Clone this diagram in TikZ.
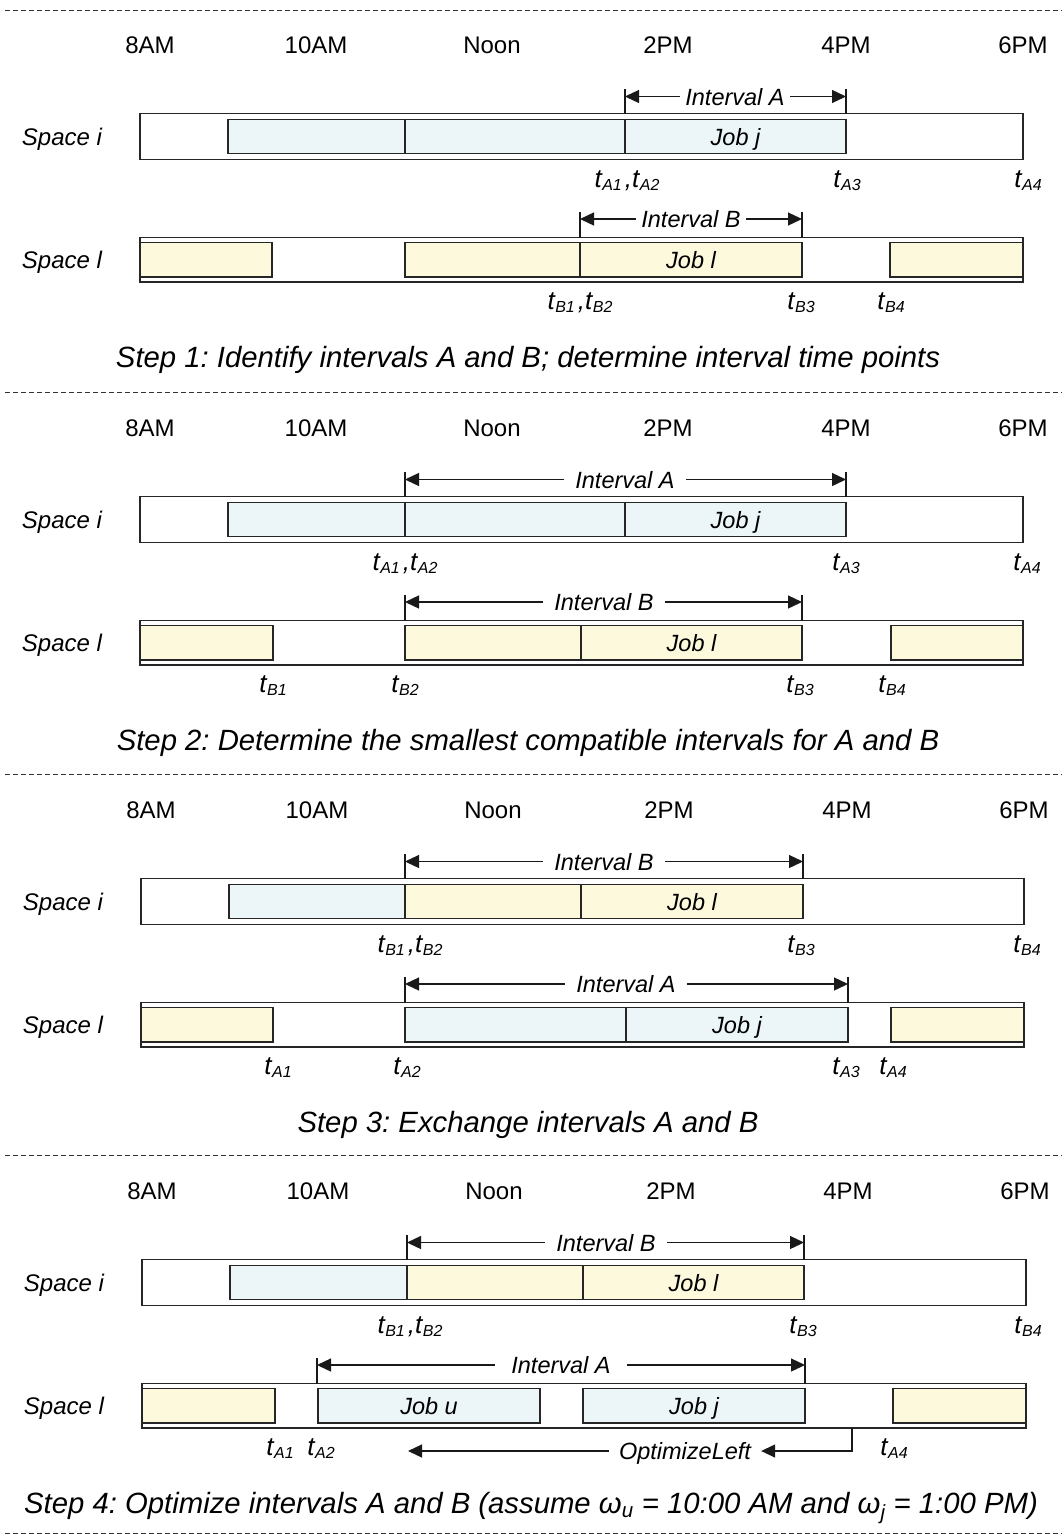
\documentclass[tikz,border=0pt]{standalone}
\usepackage{fontspec}
\setmainfont{Liberation Sans}
\usetikzlibrary{arrows.meta}
\definecolor{jobblue}{HTML}{ECF6F9}
\definecolor{jobyel}{HTML}{FCF9DC}
\newcommand\fs[1]{\fontsize{#1}{#1}\selectfont}
\newcommand\tl[1]{t\kern0.5pt\raisebox{-3.5pt}{\fs{16}#1}}
\newcommand\bx[7]{\node[#6, anchor=north west, minimum width={(#4-#2)*1pt}, minimum height={(#5-#3)*1pt}] (#1) at (#2,#3) {#7};}
\frenchspacing
\begin{document}
\begin{tikzpicture}[x=1pt,y=-1pt,
  bar/.style={draw=black!85, line width=1.3pt, fill=white, inner sep=0pt, outer sep=0pt},
  jb/.style={bar, fill=jobblue, font=\fs{23.5}\itshape, text depth=0pt},
  jy/.style={bar, fill=jobyel, font=\fs{23.5}\itshape, text depth=0pt},
  tm/.style={font=\fs{24}, anchor=base, inner sep=0pt},
  sp/.style={font=\fs{24}\itshape, inner sep=0pt, text depth=0pt},
  iv/.style={font=\fs{23.5}\itshape, inner ysep=0pt, inner xsep=11pt, text depth=0pt},
  tt/.style={font=\fs{26}\itshape, anchor=base, inner sep=0pt},
  capt/.style={font=\fs{29.3}\itshape, anchor=base, inner sep=0pt},
  dashline/.style={line width=0.9pt, black!80, dash pattern=on 5pt off 3pt},
  tick/.style={line width=1.3pt, black!90},
  ivarr/.style={line width=1.3pt, black!90, -{Triangle[length=14pt,width=13pt]}}
]
\useasboundingbox (0,0) rectangle (1062,1537);
\fill[white] (0,0) rectangle (1062,1537);

% ================= Panel 1 =================
\begin{scope}[shift={(0,9)}]
\coordinate (aD1) at (5,1); \coordinate (aD2) at (1062,1);
\draw[dashline] (aD1) -- (aD2);
\node[tm] (aT1) at (150,44.5) {8AM};
\node[tm] (aT2) at (316,44.5) {10AM};
\node[tm] (aT3) at (492,44.5) {Noon};
\node[tm] (aT4) at (668,44.5) {2PM};
\node[tm] (aT5) at (846,44.5) {4PM};
\node[tm] (aT6) at (1023,44.5) {6PM};
% Space i
\bx{aSi}{140}{104.5}{1023}{150.5}{bar}{}
\bx{aSi1}{228}{110.5}{405}{144.5}{jb}{}
\bx{aSi2}{405}{110.5}{625}{144.5}{jb}{}
\bx{aSi3}{625}{110.5}{846}{144.5}{jb}{Job j}
\node[sp] (aLi) at (62,127.5) {Space i};
\coordinate (aA1) at (625,80); \coordinate (aA2) at (846,80);
\draw[tick] (aA1) -- (aA1 |- aSi.north);
\draw[tick] (aA2) -- (aA2 |- aSi.north);
\node[iv, inner xsep=5pt] (aIA) at (735,87.5) {Interval A};
\draw[ivarr] (aIA.west) -- (aIA.west -| aA1);
\draw[ivarr] (aIA.east) -- (aIA.east -| aA2);
\node[tt] (at1) at (627,178) {\tl{A1}\kern3pt,\tl{A2}};
\node[tt] (at2) at (847,178) {\tl{A3}};
\node[tt] (at3) at (1028,178) {\tl{A4}};
% Space l
\bx{aSl}{140}{228.5}{1023}{273}{bar}{}
\bx{aSl1}{140}{233.5}{272}{268}{jy}{}
\bx{aSl2}{405}{233.5}{580}{268}{jy}{}
\bx{aSl3}{580}{233.5}{802}{268}{jy}{Job l}
\bx{aSl4}{890}{233.5}{1023}{268}{jy}{}
\node[sp] (aLl) at (62,250.5) {Space l};
\coordinate (aB1) at (580,203); \coordinate (aB2) at (802,203);
\draw[tick] (aB1) -- (aB1 |- aSl.north);
\draw[tick] (aB2) -- (aB2 |- aSl.north);
\node[iv, inner xsep=5pt] (aIB) at (691,210) {Interval B};
\draw[ivarr] (aIB.west) -- (aIB.west -| aB1);
\draw[ivarr] (aIB.east) -- (aIB.east -| aB2);
\node[tt] (at4) at (580,300) {\tl{B1}\kern3pt,\tl{B2}};
\node[tt] (at5) at (801,300) {\tl{B3}};
\node[tt] (at6) at (891,300) {\tl{B4}};
\node[capt] (aCap) at (528,358.5) {Step 1: Identify intervals A and B; determine interval time points};
\end{scope}

% ================= Panel 2 =================
\begin{scope}[shift={(0,392)}]
\coordinate (bD1) at (5,0); \coordinate (bD2) at (1062,0);
\draw[dashline] (bD1) -- (bD2);
\node[tm] (bT1) at (150,44.5) {8AM};
\node[tm] (bT2) at (316,44.5) {10AM};
\node[tm] (bT3) at (492,44.5) {Noon};
\node[tm] (bT4) at (668,44.5) {2PM};
\node[tm] (bT5) at (846,44.5) {4PM};
\node[tm] (bT6) at (1023,44.5) {6PM};
\bx{bSi}{140}{104.5}{1023}{150.5}{bar}{}
\bx{bSi1}{228}{110.5}{405}{144.5}{jb}{}
\bx{bSi2}{405}{110.5}{625}{144.5}{jb}{}
\bx{bSi3}{625}{110.5}{846}{144.5}{jb}{Job j}
\node[sp] (bLi) at (62,127.5) {Space i};
\coordinate (bA1) at (405,80); \coordinate (bA2) at (846,80);
\draw[tick] (bA1) -- (bA1 |- bSi.north);
\draw[tick] (bA2) -- (bA2 |- bSi.north);
\node[iv] (bIA) at (625,87.5) {Interval A};
\draw[ivarr] (bIA.west) -- (bIA.west -| bA1);
\draw[ivarr] (bIA.east) -- (bIA.east -| bA2);
\node[tt] (bt1) at (405,178) {\tl{A1}\kern3pt,\tl{A2}};
\node[tt] (bt2) at (846,178) {\tl{A3}};
\node[tt] (bt3) at (1027,178) {\tl{A4}};
\bx{bSl}{140}{228.5}{1023}{273}{bar}{}
\bx{bSl1}{140}{233.5}{273}{268}{jy}{}
\bx{bSl2}{405}{233.5}{581}{268}{jy}{}
\bx{bSl3}{581}{233.5}{802}{268}{jy}{Job l}
\bx{bSl4}{891}{233.5}{1023}{268}{jy}{}
\node[sp] (bLl) at (62,250.5) {Space l};
\coordinate (bB1) at (405,203); \coordinate (bB2) at (802,203);
\draw[tick] (bB1) -- (bB1 |- bSl.north);
\draw[tick] (bB2) -- (bB2 |- bSl.north);
\node[iv] (bIB) at (604,210) {Interval B};
\draw[ivarr] (bIB.west) -- (bIB.west -| bB1);
\draw[ivarr] (bIB.east) -- (bIB.east -| bB2);
\node[tt] (bt4) at (273,300) {\tl{B1}};
\node[tt] (bt5) at (405,300) {\tl{B2}};
\node[tt] (bt6) at (800,300) {\tl{B3}};
\node[tt] (bt7) at (892,300) {\tl{B4}};
\node[capt] (bCap) at (528,358.5) {Step 2: Determine the smallest compatible intervals for A and B};
\end{scope}

% ================= Panel 3 =================
\begin{scope}[shift={(0,774)}]
\coordinate (cD1) at (5,0); \coordinate (cD2) at (1062,0);
\draw[dashline] (cD1) -- (cD2);
\node[tm] (cT1) at (151,44.5) {8AM};
\node[tm] (cT2) at (317,44.5) {10AM};
\node[tm] (cT3) at (493,44.5) {Noon};
\node[tm] (cT4) at (669,44.5) {2PM};
\node[tm] (cT5) at (847,44.5) {4PM};
\node[tm] (cT6) at (1024,44.5) {6PM};
\bx{cSi}{141}{104.5}{1024}{150.5}{bar}{}
\bx{cSi1}{229}{110.5}{405}{144.5}{jb}{}
\bx{cSi2}{405}{110.5}{581}{144.5}{jy}{}
\bx{cSi3}{581}{110.5}{803}{144.5}{jy}{Job l}
\node[sp] (cLi) at (63,127.5) {Space i};
\coordinate (cB1) at (405,80); \coordinate (cB2) at (803,80);
\draw[tick] (cB1) -- (cB1 |- cSi.north);
\draw[tick] (cB2) -- (cB2 |- cSi.north);
\node[iv] (cIB) at (604,87.5) {Interval B};
\draw[ivarr] (cIB.west) -- (cIB.west -| cB1);
\draw[ivarr] (cIB.east) -- (cIB.east -| cB2);
\node[tt] (ct1) at (410,178) {\tl{B1}\kern3pt,\tl{B2}};
\node[tt] (ct2) at (801,178) {\tl{B3}};
\node[tt] (ct3) at (1027,178) {\tl{B4}};
\bx{cSl}{141}{228.5}{1024}{273}{bar}{}
\bx{cSl1}{141}{233.5}{273}{268}{jy}{}
\bx{cSl2}{405}{233.5}{626}{268}{jb}{}
\bx{cSl3}{626}{233.5}{848}{268}{jb}{Job j}
\bx{cSl4}{891}{233.5}{1024}{268}{jy}{}
\node[sp] (cLl) at (63,250.5) {Space l};
\coordinate (cA1) at (405,203); \coordinate (cA2) at (848,203);
\draw[tick] (cA1) -- (cA1 |- cSl.north);
\draw[tick] (cA2) -- (cA2 |- cSl.north);
\node[iv] (cIA) at (626,210) {Interval A};
\draw[ivarr] (cIA.west) -- (cIA.west -| cA1);
\draw[ivarr] (cIA.east) -- (cIA.east -| cA2);
\node[tt] (ct4) at (278,300) {\tl{A1}};
\node[tt] (ct5) at (407,300) {\tl{A2}};
\node[tt] (ct6) at (846,300) {\tl{A3}};
\node[tt] (ct7) at (893,300) {\tl{A4}};
\node[capt] (cCap) at (528,358.5) {Step 3: Exchange intervals A and B};
\end{scope}

% ================= Panel 4 =================
\begin{scope}[shift={(0,1155)}]
\coordinate (dD1) at (5,0); \coordinate (dD2) at (1062,0);
\draw[dashline] (dD1) -- (dD2);
\node[tm] (dT1) at (152,44.5) {8AM};
\node[tm] (dT2) at (318,44.5) {10AM};
\node[tm] (dT3) at (494,44.5) {Noon};
\node[tm] (dT4) at (671,44.5) {2PM};
\node[tm] (dT5) at (848,44.5) {4PM};
\node[tm] (dT6) at (1025,44.5) {6PM};
\bx{dSi}{142}{104.5}{1026}{150.5}{bar}{}
\bx{dSi1}{230}{110.5}{407}{144.5}{jb}{}
\bx{dSi2}{407}{110.5}{583}{144.5}{jy}{}
\bx{dSi3}{583}{110.5}{804}{144.5}{jy}{Job l}
\node[sp] (dLi) at (64,127.5) {Space i};
\coordinate (dB1) at (407,80); \coordinate (dB2) at (804,80);
\draw[tick] (dB1) -- (dB1 |- dSi.north);
\draw[tick] (dB2) -- (dB2 |- dSi.north);
\node[iv] (dIB) at (606,87.5) {Interval B};
\draw[ivarr] (dIB.west) -- (dIB.west -| dB1);
\draw[ivarr] (dIB.east) -- (dIB.east -| dB2);
\node[tt] (dt1) at (410,178) {\tl{B1}\kern3pt,\tl{B2}};
\node[tt] (dt2) at (803,178) {\tl{B3}};
\node[tt] (dt3) at (1028,178) {\tl{B4}};
\bx{dSl}{142}{228.5}{1026}{273}{bar}{}
\bx{dSl1}{142}{233.5}{275}{268}{jy}{}
\bx{dSl2}{318}{233.5}{540}{268}{jb}{Job u}
\bx{dSl3}{583}{233.5}{805}{268}{jb}{Job j}
\bx{dSl4}{893}{233.5}{1026}{268}{jy}{}
\node[sp] (dLl) at (64,250.5) {Space l};
\coordinate (dA1) at (317,203); \coordinate (dA2) at (805,203);
\draw[tick] (dA1) -- (dA1 |- dSl.north);
\draw[tick] (dA2) -- (dA2 |- dSl.north);
\node[iv, inner xsep=16pt] (dIA) at (561,210) {Interval A};
\draw[ivarr] (dIA.west) -- (dIA.west -| dA1);
\draw[ivarr] (dIA.east) -- (dIA.east -| dA2);
\node[tt] (dt4) at (280,300) {\tl{A1}};
\node[tt] (dt5) at (321,300) {\tl{A2}};
\node[tt] (dt6) at (894,300) {\tl{A4}};
% OptimizeLeft
\node[iv, inner xsep=10pt] (dOL) at (685,296) {OptimizeLeft};
\coordinate (dOs) at (852,273);
\coordinate (dOe) at (408,296);
\draw[ivarr] (dOs) |- (dOL.east);
\draw[ivarr] (dOL.west) -- (dOe);
\node[capt] (dCap) at (531,358.5) {Step 4: Optimize intervals A and B (assume ω\textsubscript{u} = 10:00 AM and ω\textsubscript{j} = 1:00 PM)};
\coordinate (eD1) at (5,378); \coordinate (eD2) at (1062,378);
\draw[dashline] (eD1) -- (eD2);
\end{scope}
\end{tikzpicture}
\end{document}
